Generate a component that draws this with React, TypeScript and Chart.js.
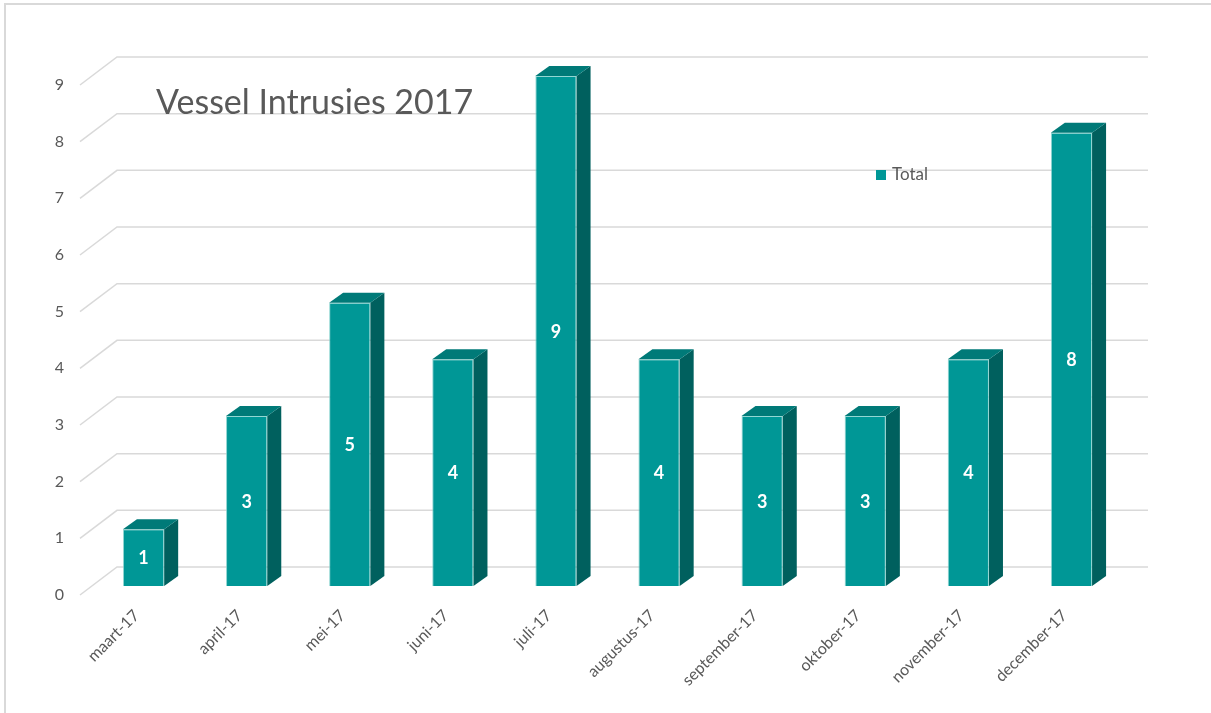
import React, { useEffect, useRef } from "react";
import { Chart, registerables } from "chart.js";

Chart.register(...registerables);

const categories = [
  "maart-17",
  "april-17",
  "mei-17",
  "juni-17",
  "juli-17",
  "augustus-17",
  "september-17",
  "oktober-17",
  "november-17",
  "december-17",
];
const totals = [1, 3, 5, 4, 9, 4, 3, 3, 4, 8];
const yTicks = [0, 1, 2, 3, 4, 5, 6, 7, 8, 9];
const seriesName = "Total";
const chartTitle = "Vessel Intrusies 2017";

const FRONT = "#009796";
const SIDE = "#00605e";
const TOP = "#007a78";
const GRID = "#d9d9d9";
const TEXT = "#595959";
const FONT = "Lato, 'Open Sans', sans-serif";

// depth geometry (pixels)
const WALL_DX = 25;
const WALL_DY = -19;
const FLOOR_DX = -37;
const FLOOR_DY = 28;
const BAR_DX = 14;
const BAR_DY = -10;

const threeD = {
  id: "threeD",
  beforeDraw(chart: any) {
    const ctx = chart.ctx;
    ctx.save();
    ctx.fillStyle = "#ffffff";
    ctx.fillRect(0, 0, chart.width, chart.height);
    ctx.strokeStyle = GRID;
    ctx.lineWidth = 2;
    ctx.beginPath();
    ctx.moveTo(5, chart.height);
    ctx.lineTo(5, 4);
    ctx.lineTo(chart.width, 4);
    ctx.stroke();
    ctx.restore();
  },
  beforeDatasetsDraw(chart: any) {
    const ctx = chart.ctx;
    const y = chart.scales.y;
    const area = chart.chartArea;
    ctx.save();
    ctx.strokeStyle = GRID;
    ctx.lineWidth = 1.5;
    yTicks.forEach((v) => {
      const yb = y.getPixelForValue(v) + WALL_DY;
      const xl = area.left + WALL_DX;
      const xr = area.right + WALL_DX;
      ctx.beginPath();
      ctx.moveTo(xl + FLOOR_DX, yb + FLOOR_DY);
      ctx.lineTo(xl, yb);
      ctx.lineTo(xr, yb);
      ctx.stroke();
    });
    ctx.restore();
  },
  afterDatasetsDraw(chart: any) {
    const ctx = chart.ctx;
    const meta = chart.getDatasetMeta(0);
    ctx.save();
    meta.data.forEach((bar: any, i: number) => {
      const { x, y, base, width } = bar.getProps(["x", "y", "base", "width"], true);
      const L = x - width / 2;
      const R = x + width / 2;
      const T = y;
      const B = base;
      // side
      ctx.fillStyle = SIDE;
      ctx.beginPath();
      ctx.moveTo(R, T);
      ctx.lineTo(R + BAR_DX, T + BAR_DY);
      ctx.lineTo(R + BAR_DX, B + BAR_DY);
      ctx.lineTo(R, B);
      ctx.closePath();
      ctx.fill();
      // top
      ctx.fillStyle = TOP;
      ctx.beginPath();
      ctx.moveTo(L, T);
      ctx.lineTo(L + BAR_DX, T + BAR_DY);
      ctx.lineTo(R + BAR_DX, T + BAR_DY);
      ctx.lineTo(R, T);
      ctx.closePath();
      ctx.fill();
      // label
      ctx.fillStyle = "#ffffff";
      ctx.font = "bold 18px " + FONT;
      ctx.textAlign = "center";
      ctx.textBaseline = "middle";
      ctx.fillText(String(totals[i]), x, (T + B) / 2 + 1);
    });
    // title
    ctx.fillStyle = TEXT;
    ctx.font = "34px " + FONT;
    ctx.textAlign = "left";
    ctx.textBaseline = "alphabetic";
    ctx.fillText(chartTitle, 156, 114);
    // legend
    ctx.fillStyle = FRONT;
    ctx.fillRect(876, 170, 10, 10);
    ctx.fillStyle = TEXT;
    ctx.font = "17px " + FONT;
    ctx.textBaseline = "middle";
    ctx.fillText(seriesName, 892, 175);
    ctx.restore();
  },
};

export default function App() {
  const ref = useRef<HTMLCanvasElement | null>(null);
  useEffect(() => {
    if (!ref.current) return;
    const chart = new Chart(ref.current, {
      type: "bar",
      data: {
        labels: categories,
        datasets: [
          {
            label: seriesName,
            data: totals,
            backgroundColor: FRONT,
            borderColor: "rgba(120,205,200,0.8)",
            borderWidth: 1,
            barPercentage: 0.4,
            categoryPercentage: 1,
          },
        ],
      },
      options: {
        responsive: false,
        animation: false,
        layout: { padding: { top: 76, right: 88, left: 0, bottom: 0 } },
        plugins: {
          legend: { display: false },
          title: { display: false },
          tooltip: { enabled: false },
        },
        scales: {
          x: {
            grid: { display: false },
            border: { display: false },
            ticks: {
              color: TEXT,
              font: { family: FONT, size: 16 },
              maxRotation: 45,
              minRotation: 45,
              padding: 12,
              labelOffset: -7,
              autoSkip: false,
            },
            afterFit: (s: any) => {
              s.height = 127;
            },
          },
          y: {
            min: 0,
            max: 9,
            grid: { display: false },
            border: { display: false },
            ticks: {
              stepSize: 1,
              color: TEXT,
              font: { family: FONT, size: 16 },
              padding: 20,
              labelOffset: 9,
            },
            afterFit: (s: any) => {
              s.width = 92;
            },
          },
        },
      },
      plugins: [threeD],
    });
    return () => chart.destroy();
  }, []);
  return (
    <div style={{ position: "absolute", left: 0, top: 0, width: 1211, height: 713 }}>
      <canvas ref={ref} width={1211} height={713} style={{ display: "block" }} />
    </div>
  );
}
